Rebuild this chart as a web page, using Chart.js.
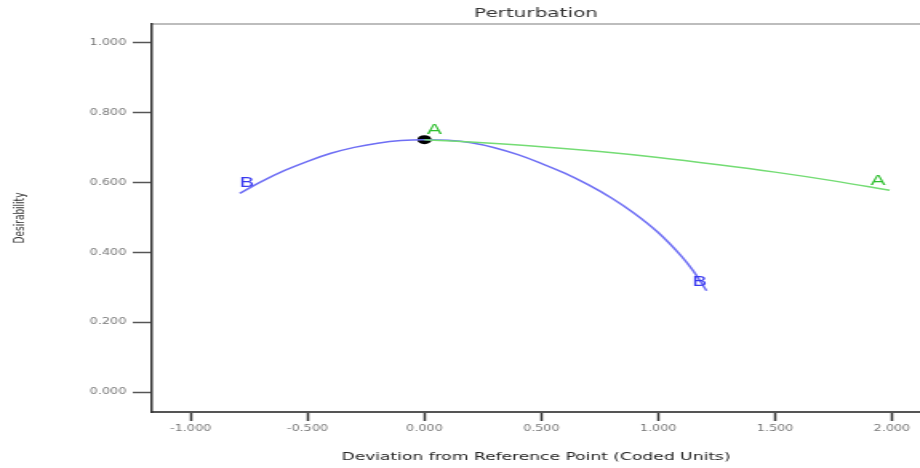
<!DOCTYPE html>
<html lang="en">
<head>
    <meta charset="UTF-8">
    <title>Perturbation</title>
    <script src="https://cdn.jsdelivr.net/npm/chart.js"></script>
    <style>
        body { margin: 0; overflow: hidden; background: #fff; }
        /* the original picture is stretched sideways, so draw narrow and widen */
        #wrap { width: 575px; height: 468px; transform: scaleX(1.6); transform-origin: 0 0; }
    </style>
</head>
<body>
    <div id="wrap"><canvas id="myChart" width="575" height="468"></canvas></div>

    <script>
        // factor A (green)
        const aX = [0, 0.25, 0.5, 0.75, 1.0, 1.25, 1.5, 1.75, 1.99];
        const aY = [0.723, 0.714, 0.703, 0.689, 0.672, 0.652, 0.630, 0.605, 0.578];

        // factor B (blue)
        const bX = [-0.79, -0.7, -0.6, -0.5, -0.4, -0.3, -0.2, -0.1, 0, 0.1, 0.2, 0.3, 0.4, 0.5, 0.6, 0.7, 0.8, 0.9, 1.0, 1.1, 1.15, 1.207];
        const bY = [0.569, 0.602, 0.634, 0.661, 0.684, 0.701, 0.713, 0.7205, 0.723, 0.721, 0.714, 0.700, 0.680, 0.655, 0.627, 0.594, 0.556, 0.511, 0.457, 0.389, 0.347, 0.290];

        // reference point
        const refX = [0];
        const refY = [0.723];

        // letters at the line ends
        const endNames = ['A', 'A', 'B', 'B'];
        const endX = [0.043, 1.94, -0.759, 1.177];
        const endY = [0.749, 0.603, 0.597, 0.314];

        const xTicks = [-1, -0.5, 0, 0.5, 1, 1.5, 2];
        const yTicks = [0, 0.2, 0.4, 0.6, 0.8, 1.0];

        const toPoints = (xs, ys) => xs.map((x, i) => ({x: x, y: ys[i]}));

        const endLabels = {
            id: 'endLabels',
            afterDatasetsDraw(chart) {
                const ctx = chart.ctx;
                const xs = chart.scales.x, ys = chart.scales.y;
                ctx.save();
                ctx.font = '14px "DejaVu Sans"';
                ctx.textAlign = 'center';
                ctx.textBaseline = 'middle';
                endNames.forEach((n, i) => {
                    ctx.fillStyle = n === 'A' ? '#2fbf2f' : '#3a3af0';
                    ctx.fillText(n, xs.getPixelForValue(endX[i]), ys.getPixelForValue(endY[i]));
                });
                ctx.restore();
            }
        };

        const ctx = document.getElementById('myChart').getContext('2d');
        const chart = new Chart(ctx, {
            type: 'scatter',
            data: {
                datasets: [{
                    label: 'A',
                    data: toPoints(aX, aY),
                    showLine: true,
                    borderColor: '#74dc74',
                    borderWidth: 1.5,
                    pointRadius: 0,
                    tension: 0.4
                }, {
                    label: 'B',
                    data: toPoints(bX, bY),
                    showLine: true,
                    borderColor: '#6e6ef4',
                    borderWidth: 1.5,
                    pointRadius: 0,
                    tension: 0.4
                }, {
                    label: 'ref',
                    data: toPoints(refX, refY),
                    pointRadius: 4.5,
                    pointBackgroundColor: '#000',
                    pointBorderWidth: 0
                }]
            },
            options: {
                responsive: false,
                animation: false,
                devicePixelRatio: 1,
                layout: { padding: 0, autoPadding: false },
                plugins: {
                    legend: { display: false },
                    tooltip: { enabled: false }
                },
                scales: {
                    x: {
                        type: 'linear',
                        position: 'bottom',
                        min: -1.1655,
                        max: 2.1198,
                        afterBuildTicks: s => { s.ticks = xTicks.map(v => ({value: v})); },
                        afterFit: s => { s.height = 56; s.paddingLeft = 0; s.paddingRight = 0; },
                        grid: { drawOnChartArea: false, tickLength: 9, tickColor: '#333', tickWidth: 1.5 },
                        border: { color: '#555', width: 2 },
                        ticks: {
                            padding: 3,
                            color: '#777',
                            font: { family: 'DejaVu Sans', size: 8 },
                            callback: v => v.toFixed(3)
                        },
                        title: {
                            display: true,
                            text: 'Deviation from Reference Point (Coded Units)',
                            color: '#222',
                            font: { family: 'DejaVu Sans', size: 10.7 },
                            padding: { top: 4, bottom: 4.4 }
                        }
                    },
                    x2: {
                        type: 'linear',
                        position: 'top',
                        min: -1.1655,
                        max: 2.1198,
                        afterFit: s => { s.height = 24; s.paddingLeft = 0; s.paddingRight = 0; },
                        grid: { display: false },
                        ticks: { display: false },
                        border: { color: '#bdbdbd', width: 2 },
                        title: {
                            display: true,
                            text: 'Perturbation',
                            color: '#333',
                            font: { family: 'DejaVu Sans', size: 12.5 },
                            padding: { top: 6, bottom: 0 }
                        }
                    },
                    y: {
                        type: 'linear',
                        min: -0.0571,
                        max: 1.0543,
                        afterBuildTicks: s => { s.ticks = yTicks.map(v => ({value: v})); },
                        afterFit: s => { s.width = 95; s.paddingTop = 0; s.paddingBottom = 0; },
                        grid: { drawOnChartArea: false, tickLength: 12, tickColor: '#555', tickWidth: 1.5 },
                        border: { color: '#333', width: 1.5 },
                        ticks: {
                            padding: 4,
                            color: '#777',
                            font: { family: 'DejaVu Sans', size: 8 },
                            callback: v => v.toFixed(3)
                        },
                        title: {
                            display: true,
                            text: 'Desirability',
                            color: '#333',
                            font: { family: 'DejaVu Sans', size: 9 },
                            padding: { top: 7, bottom: 0 }
                        }
                    }
                }
            },
            plugins: [endLabels]
        });
    </script>
</body>
</html>
